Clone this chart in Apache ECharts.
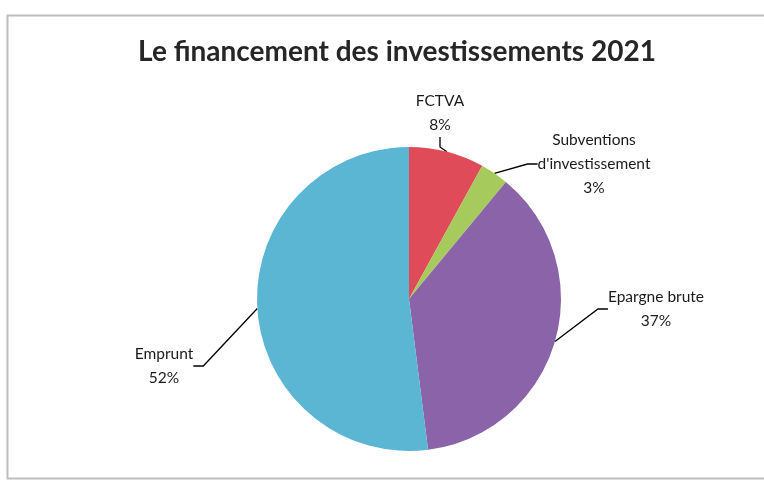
<!DOCTYPE html>
<html>
<head>
    <meta charset="utf-8">
    <script src="https://cdn.jsdelivr.net/npm/echarts@6/dist/echarts.min.js"></script>
</head>
<body style="margin:0;background:#fff">
    <div id="container" style="width:764px;height:484px"></div>
    <script type="text/javascript">
        var categories = ['FCTVA', "Subventions\nd'investissement", 'Epargne brute', 'Emprunt'];
        var values = [8, 3, 37, 52];
        var colors = ['#e04b5a', '#a6cb5c', '#8b63a8', '#5bb6d3'];

        // positions des étiquettes (centre du texte)
        var labelPos = [
            [440, 113],
            [594, 164],
            [656, 309],
            [164, 366]
        ];

        var myChart = echarts.init(document.getElementById('container'));

        var data = categories.map(function (name, i) {
            return { name: name, value: values[i], itemStyle: { color: colors[i] } };
        });

        var option = {
            animation: false,
            graphic: [{
                type: 'rect',
                shape: { x: 7.5, y: 15.5, width: 770, height: 463 },
                style: { fill: 'none', stroke: '#bdbdbd', lineWidth: 2 },
                silent: true
            }],
            title: {
                text: 'Le financement des investissements 2021',
                left: 392,
                top: 33,
                textAlign: 'center',
                textStyle: {
                    fontFamily: 'Lato',
                    fontWeight: 'bold',
                    fontSize: 28,
                    color: '#262626'
                }
            },
            series: [{
                type: 'pie',
                center: [409, 299],
                radius: 152,
                startAngle: 90,
                clockwise: true,
                data: data,
                label: {
                    show: true,
                    formatter: function (p) { return p.name + '\n' + p.value + '%'; },
                    fontFamily: 'Lato',
                    fontSize: 15.5,
                    lineHeight: 24,
                    color: '#1a1a1a',
                    align: 'center'
                },
                labelLine: {
                    show: true,
                    length: 10,
                    length2: 10,
                    lineStyle: { color: '#000', width: 1.3 }
                },
                labelLayout: function (params) {
                    var p = labelPos[params.dataIndex];
                    return {
                        x: p[0],
                        y: p[1],
                        align: 'center',
                        verticalAlign: 'middle'
                    };
                },
                itemStyle: { borderWidth: 0 },
                emphasis: { disabled: true }
            }]
        };

        myChart.setOption(option);
    </script>
</body>
</html>
